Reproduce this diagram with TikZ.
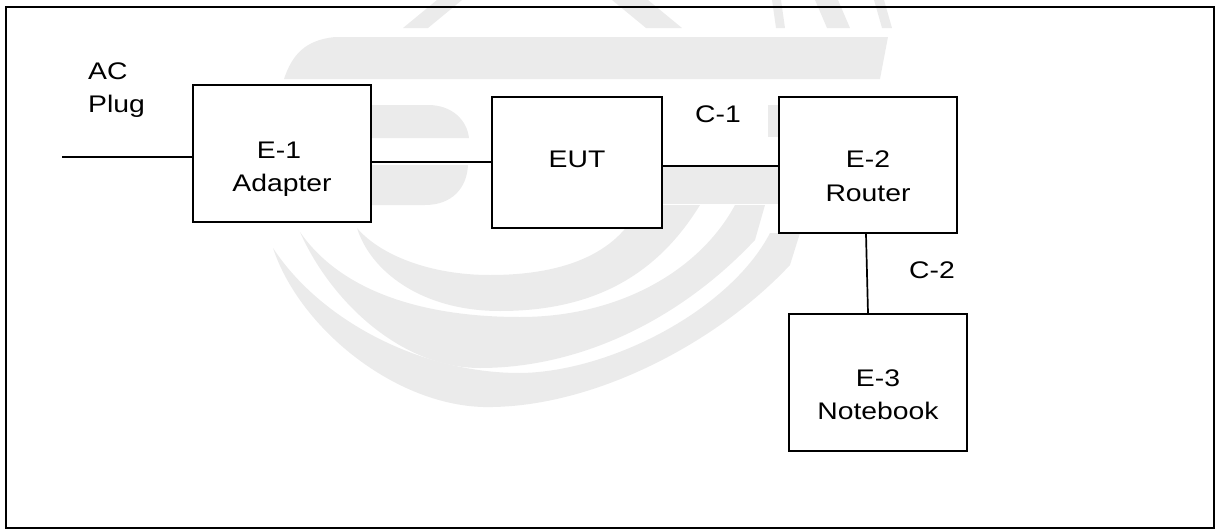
\documentclass[tikz,border=0pt]{standalone}
\usepackage{fontspec}
\setmainfont{Liberation Sans}[FakeStretch=1.18]
\definecolor{wm}{RGB}{235,235,235}
\begin{document}
\begin{tikzpicture}[x=1pt,y=-1pt,
  box/.style={draw, line width=1.9pt, fill=white, inner sep=0pt},
  conn/.style={line width=1.7pt},
  lbl/.style={font=\fontsize{24}{33}\selectfont, inner sep=0pt, anchor=base},
  wmark/.style={fill=wm}]
\useasboundingbox (0,0) rectangle (1216,530);
% ---- watermark ----
\fill[wmark] (284,79) .. controls (292,55) and (305,40) .. (335,37) -- (888,37) -- (880,79) -- cycle;
\fill[wmark] (330,105) -- (428,105) .. controls (452,105) and (467,120) .. (469,138) -- (330,138) -- cycle;
\fill[wmark] (768,105) rectangle (900,137);
\fill[wmark] (330,165) -- (468,165) .. controls (467,188) and (452,205) .. (425,205) -- (330,205) -- cycle;
\fill[wmark] (600,166) rectangle (800,204);
\fill[wmark] (403,28) -- (428,28) -- (462,0) -- (437,0) -- cycle;
\fill[wmark] (612,0) -- (648,0) -- (682,28) -- (646,28) -- cycle;
\fill[wmark] (772,0) -- (781,0) -- (785,28) -- (776,28) -- cycle;
\fill[wmark] (815,0) -- (838,0) -- (850,28) -- (827,28) -- cycle;
\fill[wmark] (874,0) -- (884,0) -- (892,28) -- (882,28) -- cycle;
% bands
\fill[wmark] (273,248) .. controls (300,330) and (400,410) .. (493,407) .. controls (600,405) and (720,340) .. (790,265) -- (800,233) -- (770,233) .. controls (730,310) and (610,372) .. (520,373) .. controls (420,373) and (320,320) .. (273,248) -- cycle;
\fill[wmark] (300,232) .. controls (330,300) and (400,368) .. (480,368) .. controls (580,368) and (680,320) .. (755,240) -- (765,205) -- (735,205) .. controls (700,270) and (620,317) .. (520,317) .. controls (420,317) and (340,290) .. (300,232) -- cycle;
\fill[wmark] (357,228) .. controls (370,270) and (420,311) .. (500,311) .. controls (600,311) and (660,270) .. (700,205) -- (640,205) .. controls (620,250) and (570,275) .. (490,275) .. controls (430,275) and (380,255) .. (357,228) -- cycle;
% ---- frame ----
\draw[line width=2pt] (6,7) rectangle (1214,528);
% ---- boxes ----
\node[box, minimum width=178pt, minimum height=137pt] (e1) at (282,153.5) {};
\node[box, minimum width=170pt, minimum height=131pt] (eut) at (577,162.5) {};
\node[box, minimum width=178pt, minimum height=136pt] (rt) at (868,165) {};
\node[box, minimum width=178pt, minimum height=137pt] (nb) at (878,382.5) {};
% ---- connectors ----
\coordinate (acend) at (62,157);
\coordinate (ya) at (0,162);
\coordinate (yb) at (0,166);
\draw[conn] (acend) -- (e1.west |- acend);
\draw[conn] (e1.east |- ya) -- (eut.west |- ya);
\draw[conn] (eut.east |- yb) -- (rt.west |- yb);
\draw[conn] ([xshift=-2pt]rt.south) -- ([xshift=-10pt]nb.north);
% ---- labels ----
\node[lbl, anchor=base west] (ac1) at (88,79.3) {AC};
\node[lbl, anchor=base west] (ac2) at (88,112.7) {Plug};
\node[lbl] (e1a) at (279,158) {E-1};
\node[lbl] (e1b) at (282,191) {Adapter};
\node[lbl] (eutl) at (577,167) {EUT};
\node[lbl] (rta) at (868,167) {E-2};
\node[lbl] (rtb) at (868,201) {Router};
\node[lbl] (nba) at (878,386) {E-3};
\node[lbl] (nbb) at (878,419) {Notebook};
\node[lbl] (c1) at (718,122.7) {C-1};
\node[lbl] (c2) at (932,278) {C-2};
\end{tikzpicture}
\end{document}
